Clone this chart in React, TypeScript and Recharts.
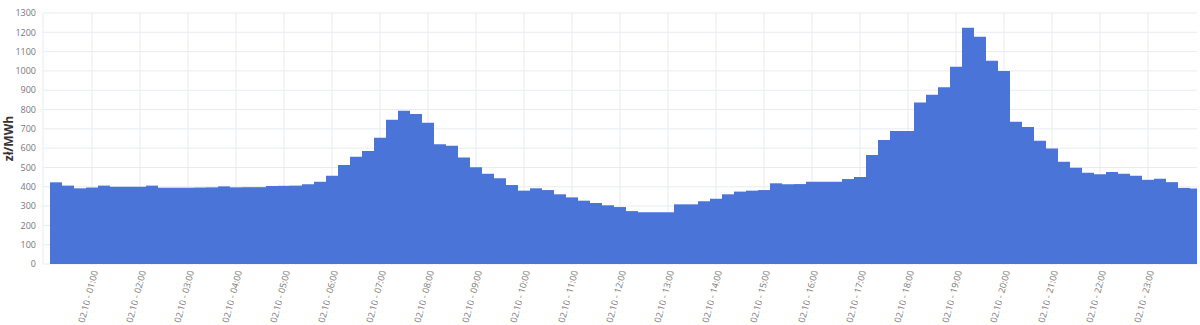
import { Bar, BarChart, CartesianGrid, XAxis, YAxis } from "recharts";

// 15-minute day-ahead prices, 02.10, zł/MWh
const PRICES = [
  423, 406, 392, 396, 406, 400, 400, 400, 406, 395, 395, 395,
  396, 397, 402, 397, 398, 398, 404, 405, 406, 413, 426, 457,
  513, 556, 585, 654, 747, 794, 777, 732, 620, 613, 551, 501,
  468, 444, 409, 380, 392, 383, 361, 345, 328, 316, 304, 295,
  274, 268, 268, 268, 309, 309, 325, 338, 361, 375, 380, 383,
  418, 413, 414, 426, 426, 426, 440, 451, 565, 642, 689, 689,
  836, 877, 915, 1022, 1224, 1177, 1053, 1000, 737, 710, 638, 598,
  530, 499, 473, 465, 476, 468, 457, 436, 441, 424, 394, 391,
];

const pad = (n: number) => String(n).padStart(2, "0");

// each slot is labelled by the time it ends at
const SLOTS = PRICES.map((_, i) => {
  const minutes = (i + 1) * 15;
  return `02.10 - ${pad(Math.floor(minutes / 60))}:${pad(minutes % 60)}`;
});

const HOUR_TICKS = [
  "02.10 - 01:00", "02.10 - 02:00", "02.10 - 03:00", "02.10 - 04:00",
  "02.10 - 05:00", "02.10 - 06:00", "02.10 - 07:00", "02.10 - 08:00",
  "02.10 - 09:00", "02.10 - 10:00", "02.10 - 11:00", "02.10 - 12:00",
  "02.10 - 13:00", "02.10 - 14:00", "02.10 - 15:00", "02.10 - 16:00",
  "02.10 - 17:00", "02.10 - 18:00", "02.10 - 19:00", "02.10 - 20:00",
  "02.10 - 21:00", "02.10 - 22:00", "02.10 - 23:00",
];

const Y_TICKS = [0, 100, 200, 300, 400, 500, 600, 700, 800, 900, 1000, 1100, 1200, 1300];

const data = SLOTS.map((slot, i) => ({ slot, price: PRICES[i] }));

function UnitLabel({ viewBox }: any) {
  const cx = viewBox.x + 8;
  const cy = viewBox.y + viewBox.height / 2;
  return (
    <text
      x={cx}
      y={cy}
      transform={`rotate(-90, ${cx}, ${cy})`}
      textAnchor="middle"
      dominantBaseline="central"
      fontSize={12}
      fontWeight={700}
      fill="#333"
    >
      zł/MWh
    </text>
  );
}

export default function App() {
  return (
    <div
      style={{
        position: "absolute",
        left: 0,
        top: 0,
        width: 1197,
        height: 325,
        overflow: "hidden",
        background: "#fff",
        fontFamily: "'Open Sans', sans-serif",
      }}
    >
      <BarChart
        width={1220}
        height={325}
        data={data}
        margin={{ top: 13, right: 11, left: 0, bottom: 0 }}
        barCategoryGap={0}
      >
        <CartesianGrid stroke="#e8ebf1" />
        <XAxis
          dataKey="slot"
          ticks={HOUR_TICKS}
          interval={0}
          height={61}
          padding={{ left: 7, right: 7 }}
          axisLine={false}
          tickLine={false}
          tickSize={0}
          tickMargin={6}
          angle={-75}
          tick={{ fontSize: 9, fill: "#777", textAnchor: "end" }}
        />
        <YAxis
          width={43}
          domain={[0, 1300]}
          ticks={Y_TICKS}
          interval={0}
          axisLine={false}
          tickLine={false}
          tickSize={0}
          tickMargin={7}
          tick={{ fontSize: 9, fill: "#777" }}
          label={(props: any) => <UnitLabel {...props} />}
        />
        <Bar dataKey="price" fill="#4b74d8" isAnimationActive={false} />
      </BarChart>
    </div>
  );
}
